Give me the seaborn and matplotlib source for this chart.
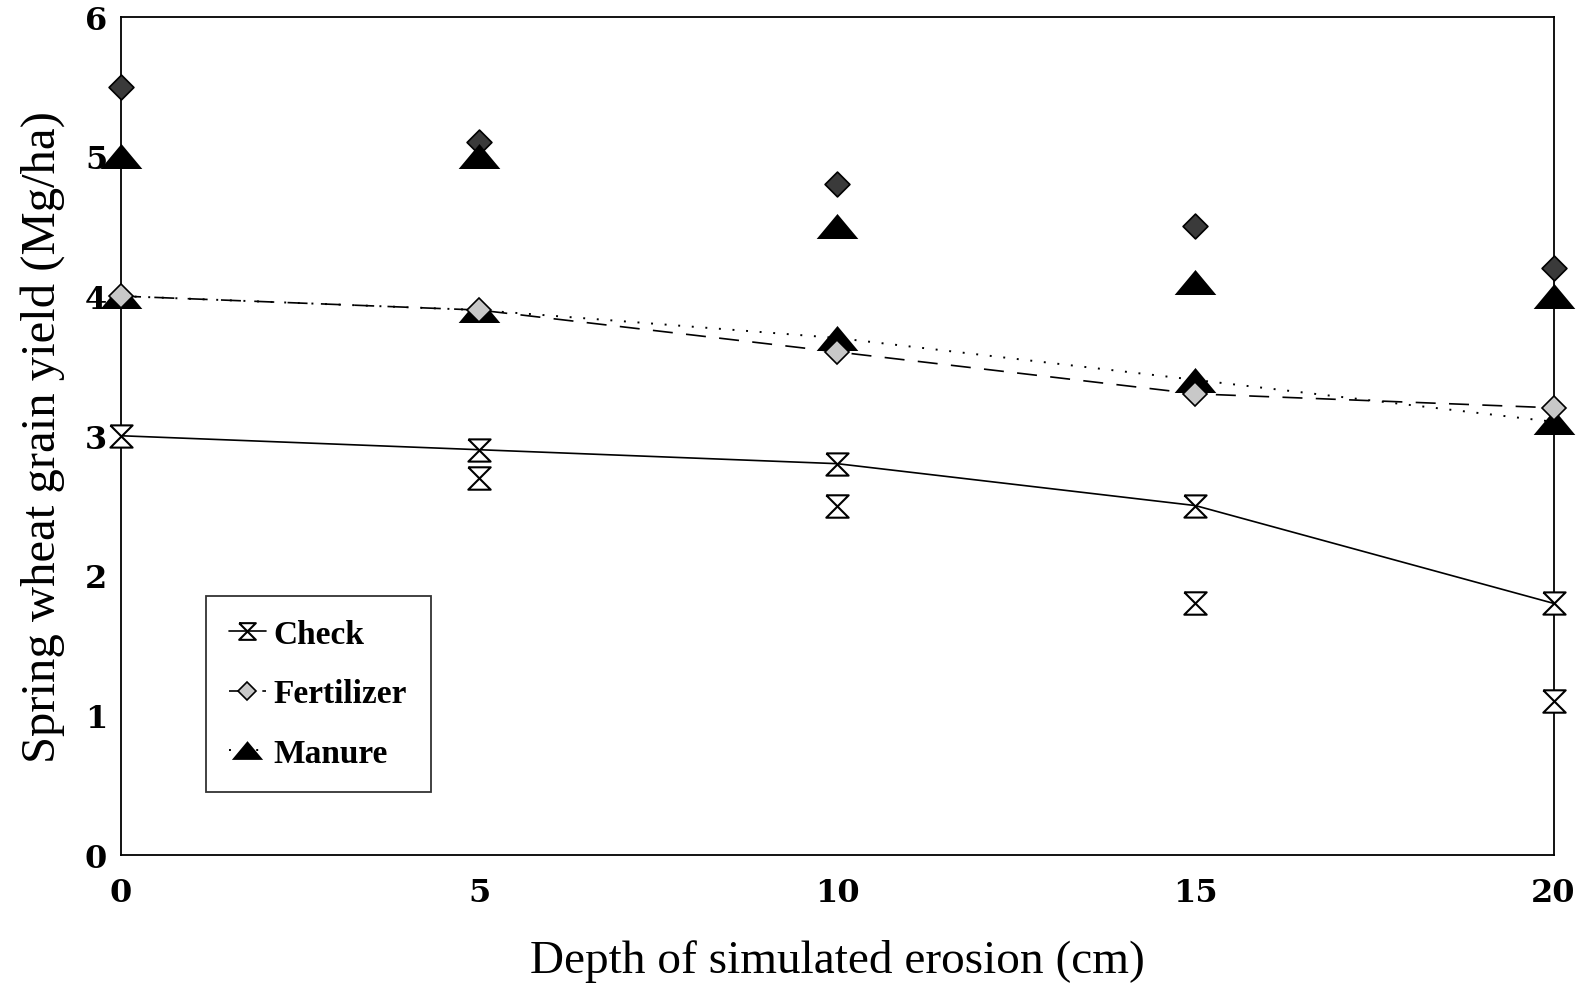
import numpy as np
import pandas as pd
import matplotlib
matplotlib.use('Agg')
import matplotlib.pyplot as plt
import seaborn as sns
sns.set_theme(style='white')
plt.rcParams['font.family'] = ['Liberation Serif', 'DejaVu Serif']
plt.rcParams['text.color'] = 'black'
plt.rcParams['axes.labelcolor'] = 'black'
plt.rcParams['xtick.color'] = 'black'
plt.rcParams['ytick.color'] = 'black'

depth = [0, 5, 10, 15, 20]

# series drawn with lines
check = [3.0, 2.9, 2.8, 2.5, 1.8]
fertilizer = [4.0, 3.9, 3.6, 3.3, 3.2]
manure = [4.0, 3.9, 3.7, 3.4, 3.1]

# unconnected points
check_pts_x = [5, 10, 15, 20]
check_pts = [2.7, 2.5, 1.8, 1.1]
fert_pts = [5.5, 5.1, 4.8, 4.5, 4.2]
manure_pts = [5.0, 5.0, 4.5, 4.1, 4.0]

hourglass = [(-1, 1), (1, 1), (-1, -1), (1, -1), (-1, 1)]
tri = [(-1, -0.6), (1, -0.6), (0, 0.6), (-1, -0.6)]

fig, ax = plt.subplots(figsize=(15.82, 9.87), dpi=100)
fig.subplots_adjust(left=0.0765, right=0.982, top=0.982, bottom=0.133)

# extra points
sns.scatterplot(x=depth, y=fert_pts, ax=ax, marker='D', s=160, color='#3a3a3a',
                edgecolor='black', linewidth=1.2, zorder=4, legend=False, clip_on=False)
sns.scatterplot(x=depth, y=manure_pts, ax=ax, marker=tri, s=900, color='black',
                edgecolor='black', linewidth=0, zorder=4, legend=False, clip_on=False)
sns.scatterplot(x=check_pts_x, y=check_pts, ax=ax, marker=hourglass, s=260,
                color='white', edgecolor='black', linewidth=1.5, zorder=4, legend=False,
                clip_on=False)

# lines
sns.lineplot(x=depth, y=check, ax=ax, color='black', lw=1.2, marker=hourglass,
             markersize=16, markerfacecolor='white', markeredgecolor='black',
             markeredgewidth=1.5, label='Check', zorder=3, clip_on=False)
sns.lineplot(x=depth, y=manure, ax=ax, color='black', lw=1.4, linestyle=(0, (1, 6)),
             marker=tri, markersize=30, markerfacecolor='black', markeredgewidth=0,
             label='Manure', zorder=3, clip_on=False)
sns.lineplot(x=depth, y=fertilizer, ax=ax, color='black', lw=1.2, linestyle=(0, (12, 8)),
             marker='D', markersize=12, markerfacecolor='#c8c8c8', markeredgecolor='black',
             markeredgewidth=1.2, label='Fertilizer', zorder=5, clip_on=False)

ax.set_xlim(0, 20)
ax.set_ylim(0, 6)
ax.set_xticks([0, 5, 10, 15, 20])
ax.set_yticks(range(7))
ax.tick_params(length=0, labelsize=23)
ax.tick_params(axis='y', pad=10)
ax.tick_params(axis='x', pad=16)
for lab in ax.get_xticklabels() + ax.get_yticklabels():
    lab.set_fontweight('bold')
    lab.set_family(['DejaVu Serif'])
for sp in ax.spines.values():
    sp.set_color('black')
    sp.set_linewidth(1.3)

ax.set_xlabel('Depth of simulated erosion (cm)', fontsize=34, labelpad=22)
ax.set_ylabel('Spring wheat grain yield (Mg/ha)', fontsize=35, labelpad=14)

h, l = ax.get_legend_handles_labels()
order = [l.index('Check'), l.index('Fertilizer'), l.index('Manure')]
leg = ax.legend([h[i] for i in order], [l[i] for i in order], loc='lower left',
                bbox_to_anchor=(0.059, 0.075), frameon=True, fancybox=False,
                edgecolor='black', handlelength=1.1, handletextpad=0.25,
                labelspacing=0.85, borderpad=0.7, borderaxespad=0, markerscale=0.75,
                prop={'size': 24, 'weight': 'bold'})
leg.get_frame().set_linewidth(1.3)

fig.savefig('out.png', dpi=100)
